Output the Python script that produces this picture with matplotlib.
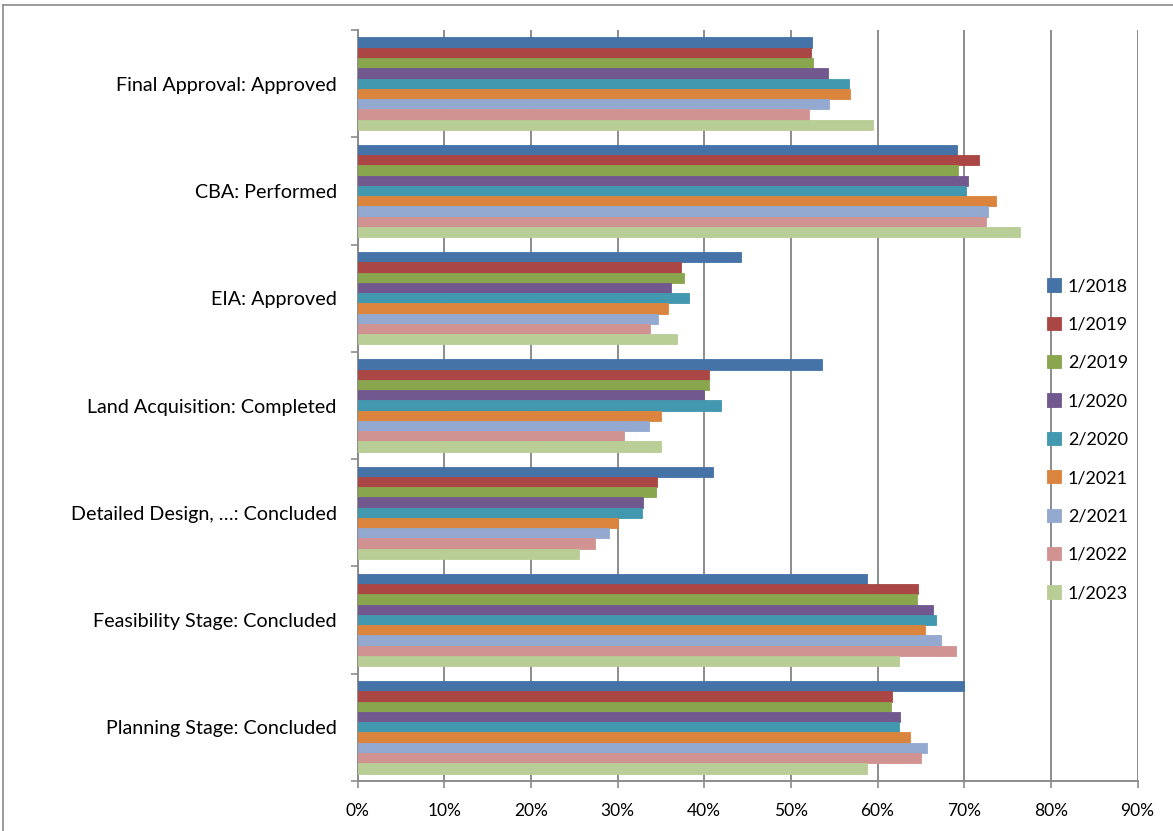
import matplotlib
matplotlib.use("Agg")
import matplotlib.pyplot as plt
from matplotlib.lines import Line2D
from matplotlib.ticker import FixedLocator, PercentFormatter
import numpy as np

plt.rcParams['font.family'] = ['Lato', 'DejaVu Sans']

categories = [
    "Final Approval: Approved",
    "CBA: Performed",
    "EIA: Approved",
    "Land Acquisition: Completed",
    "Detailed Design, \u2026: Concluded",
    "Feasibility Stage: Concluded",
    "Planning Stage: Concluded",
]

series_names = ["1/2018", "1/2019", "2/2019", "1/2020", "2/2020",
                "1/2021", "2/2021", "1/2022", "1/2023"]

colors = ["#4572A7", "#AA4643", "#89A54E", "#71588F", "#4198AF",
          "#DB843D", "#93A9CF", "#D19392", "#B9CD96"]

# Percent values per series, in category order (top to bottom)
s_2018_1 = [52.4, 69.2, 44.3, 53.6, 41.0, 58.8, 70.0]
s_2019_1 = [52.3, 71.7, 37.3, 40.6, 34.6, 64.7, 61.7]
s_2019_2 = [52.6, 69.3, 37.7, 40.6, 34.4, 64.6, 61.6]
s_2020_1 = [54.3, 70.4, 36.2, 40.0, 32.9, 66.4, 62.6]
s_2020_2 = [56.7, 70.2, 38.2, 41.9, 32.8, 66.8, 62.5]
s_2021_1 = [56.8, 73.7, 35.8, 35.0, 30.0, 65.5, 63.7]
s_2021_2 = [54.4, 72.8, 34.7, 33.6, 29.0, 67.3, 65.7]
s_2022_1 = [52.1, 72.5, 33.7, 30.8, 27.4, 69.0, 65.0]
s_2023_1 = [59.5, 76.4, 36.9, 35.0, 25.5, 62.5, 58.8]

series_values = [s_2018_1, s_2019_1, s_2019_2, s_2020_1, s_2020_2,
                 s_2021_1, s_2021_2, s_2022_1, s_2023_1]

W, H = 1173, 831
fig = plt.figure(figsize=(W / 100, H / 100), dpi=100)
ax = fig.add_axes([357.5 / W, 1 - 781 / H, (1137.5 - 357.5) / W, (781 - 30) / H])

n = len(series_names)
group = 0.862
bh = group / n
y = np.arange(len(categories))

for j, (name, vals, c) in enumerate(zip(series_names, series_values, colors)):
    off = (j - (n - 1) / 2) * bh
    ax.barh(y + off, vals, height=bh, color=c, label=name,
            edgecolor=c, linewidth=0.6, zorder=3)

ax.set_xlim(0, 90)
ax.set_ylim(len(categories) - 0.5, -0.5)

grid_c = "#8c8c8c"
ax.set_xticks(np.arange(0, 91, 10))
ax.xaxis.set_major_formatter(PercentFormatter(decimals=0))
ax.grid(axis='x', color=grid_c, linewidth=1.4, zorder=0)
ax.tick_params(axis='x', direction='out', length=5, width=1.2, color=grid_c,
               pad=11, labelsize=12.5, labelcolor='black')

ax.set_yticks(y)
ax.set_yticklabels(categories)
ax.yaxis.set_minor_locator(FixedLocator(np.arange(-0.5, len(categories), 1)))
ax.tick_params(axis='y', which='major', length=0, pad=15, labelsize=14.2)
ax.tick_params(axis='y', which='minor', direction='out', length=5, width=1.2, color=grid_c)

for side in ('top', 'right'):
    ax.spines[side].set_visible(False)
for side in ('left', 'bottom'):
    ax.spines[side].set_color(grid_c)
    ax.spines[side].set_linewidth(1.4)

leg = ax.legend(loc='upper left', bbox_to_anchor=(1040 / W, 1 - 271 / H),
                bbox_transform=fig.transFigure, frameon=False,
                fontsize=13, handlelength=0.75, handleheight=0.75,
                handletextpad=0.4, labelspacing=1.24, borderaxespad=0)

# chart-area border
border_c = "#8a8a8a"
fig.add_artist(Line2D([3 / W, 1], [1 - 5 / H, 1 - 5 / H], transform=fig.transFigure,
                      color=border_c, linewidth=1.2))
fig.add_artist(Line2D([3 / W, 3 / W], [0, 1 - 5 / H], transform=fig.transFigure,
                      color=border_c, linewidth=1.2))

fig.savefig("out.png", dpi=100, facecolor='white')
